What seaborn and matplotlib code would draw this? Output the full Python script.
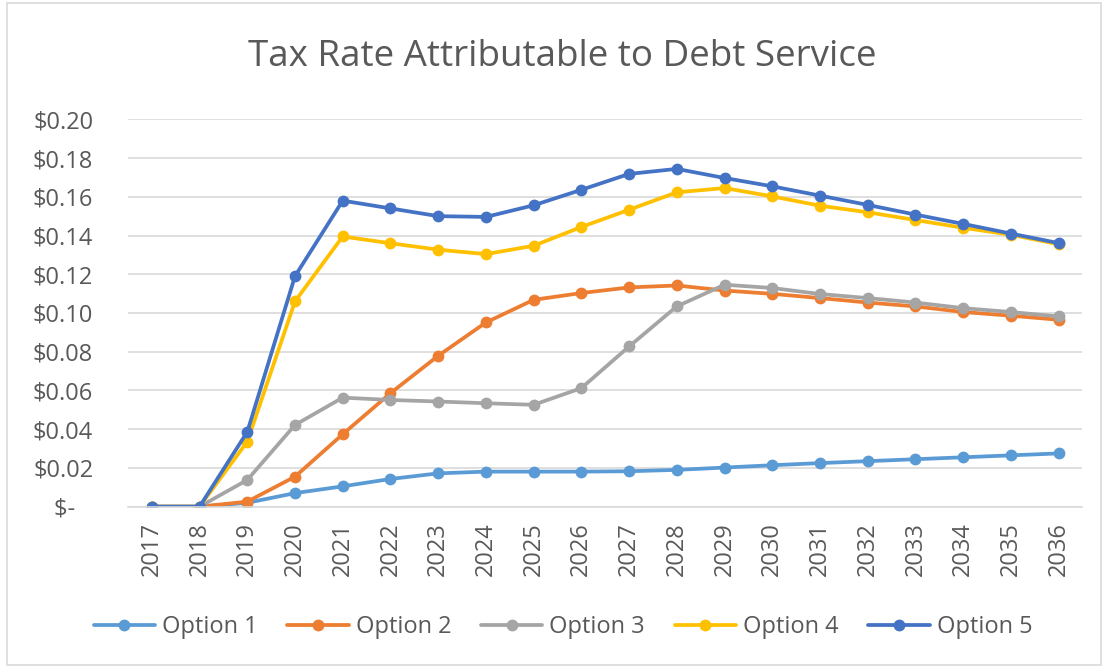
import pandas as pd
import matplotlib.pyplot as plt
import seaborn as sns
from matplotlib.patches import Rectangle
from matplotlib.ticker import FuncFormatter

# --- DATA ---
years = list(range(2017, 2037))
option_1 = [0, 0, 0.0020, 0.0070, 0.0105, 0.0143, 0.0172, 0.0181, 0.0181, 0.0181,
            0.0183, 0.0190, 0.0202, 0.0214, 0.0225, 0.0235, 0.0245, 0.0255, 0.0265, 0.0275]
option_2 = [0, 0, 0.0026, 0.0155, 0.0374, 0.0586, 0.0779, 0.0951, 0.1068, 0.1103,
            0.1132, 0.1142, 0.1116, 0.1099, 0.1077, 0.1054, 0.1034, 0.1005, 0.0986, 0.0965]
option_3 = [0, 0, 0.0138, 0.0422, 0.0563, 0.0551, 0.0543, 0.0534, 0.0526, 0.0612,
            0.0827, 0.1034, 0.1146, 0.1129, 0.1098, 0.1077, 0.1054, 0.1025, 0.1005, 0.0982]
option_4 = [0, 0, 0.0336, 0.1060, 0.1395, 0.1360, 0.1327, 0.1304, 0.1347, 0.1444,
            0.1533, 0.1623, 0.1645, 0.1602, 0.1554, 0.1520, 0.1480, 0.1440, 0.1404, 0.1355]
option_5 = [0, 0, 0.0386, 0.1190, 0.1580, 0.1540, 0.1500, 0.1496, 0.1556, 0.1636,
            0.1718, 0.1744, 0.1697, 0.1654, 0.1606, 0.1558, 0.1508, 0.1460, 0.1410, 0.1361]
series_names = ["Option 1", "Option 2", "Option 3", "Option 4", "Option 5"]
y_ticks = [0, 0.02, 0.04, 0.06, 0.08, 0.10, 0.12, 0.14, 0.16, 0.18, 0.20]

PALETTE = ["#5B9BD5", "#ED7D31", "#A5A5A5", "#FFC000", "#4472C4"]
TEXT_COLOR = "#595959"
GRID_COLOR = "#D9D9D9"

df = pd.DataFrame({
    "year": years * 5,
    "rate": option_1 + option_2 + option_3 + option_4 + option_5,
    "series": [name for name in series_names for _ in years],
})

sns.set_style("white")
plt.rcParams['font.family'] = ['Open Sans', 'DejaVu Sans']

fig = plt.figure(figsize=(11.05, 6.68), dpi=100)
ax = fig.add_axes([0.1158, 0.2415, 0.9796 - 0.1158, 0.8214 - 0.2415])

sns.lineplot(data=df, x="year", y="rate", hue="series", palette=PALETTE,
             marker="o", markersize=8.5, markeredgewidth=0, linewidth=2.7,
             ax=ax, legend=True)

ax.set_xlim(2016.5, 2036.5)
ax.set_ylim(0, 0.20)
ax.set_xticks(years)
ax.set_xticklabels([str(y) for y in years], rotation=90)
ax.set_yticks(y_ticks)


def money(v, pos):
    if abs(v) < 1e-9:
        return "$-   "
    return f"${v:.2f}"


ax.yaxis.set_major_formatter(FuncFormatter(money))
ax.tick_params(axis='y', length=0, pad=25, labelsize=17, labelcolor=TEXT_COLOR)
ax.tick_params(axis='x', length=0, pad=11, labelsize=17, labelcolor=TEXT_COLOR)
ax.set_xlabel("")
ax.set_ylabel("")

ax.grid(axis='y', color=GRID_COLOR, linewidth=1.2, zorder=0)
ax.grid(axis='x', visible=False)
for side in ['top', 'right', 'left']:
    ax.spines[side].set_visible(False)
ax.spines['bottom'].set_color(GRID_COLOR)
ax.spines['bottom'].set_linewidth(1.2)
ax.set_axisbelow(True)

# Legend below the plot
handles, labels = ax.get_legend_handles_labels()
ax.legend(handles, labels, loc='center', bbox_to_anchor=(563 / 1105, 1 - 627 / 668),
          bbox_transform=fig.transFigure, ncol=5, frameon=False, fontsize=17,
          handlelength=2.6, handletextpad=0.3, columnspacing=1.25,
          labelcolor=TEXT_COLOR, borderaxespad=0, borderpad=0)

fig.text(562 / 1105, 1 - 57 / 668, "Tax Rate Attributable to Debt Service",
         ha='center', va='center', fontsize=26.5, color=TEXT_COLOR)

# Chart border
fig.patches.append(Rectangle((0.006, 0.005), 0.99, 0.99, transform=fig.transFigure,
                             fill=False, edgecolor=GRID_COLOR, linewidth=1.2))

fig.savefig("out.png", dpi=100, facecolor="white")
